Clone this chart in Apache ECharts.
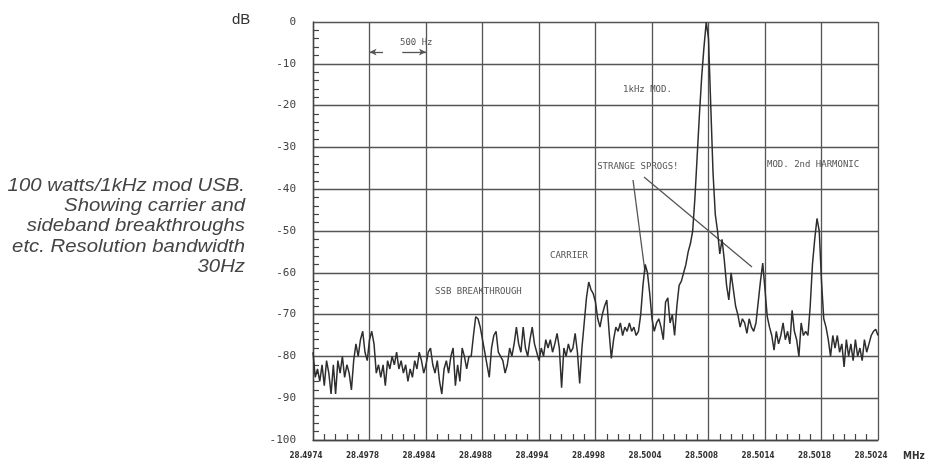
<!DOCTYPE html>
<html><head><meta charset="utf-8">
<script src="https://cdn.jsdelivr.net/npm/echarts/dist/echarts.min.js"></script>
<style>html,body{margin:0;padding:0;background:#fff}#c{width:945px;height:462px}</style>
</head><body><div id="c"></div>
<script>
// Sweep: 28.4974 .. 28.5024 MHz, 500 Hz/div; x values are Hz offset from the start
const tickLabels = ["28.4974","28.4978","28.4984","28.4988","28.4994","28.4998","28.5004","28.5008","28.5014","28.5018","28.5024"];
const sweepStepHz = 20;
const levelsDb = [
 -79,-85,-83,-86,-82,-87,-81,-84,-89,-82,
 -89,-81,-84,-80,-85,-82,-84,-88,-81,-77,
 -80,-76,-74,-79,-81,-76,-74,-77,-84,-82,
 -85,-82,-87,-81,-83,-80,-82,-79,-83,-81,
 -84,-82,-86,-83,-85,-81,-83,-79,-81,-84,
 -82,-79,-78,-82,-84,-81,-86,-89,-83,-81,
 -84,-80,-78,-87,-82,-86,-78,-80,-83,-80,
 -80,-75,-70.5,-71,-73,-76,-79,-82,-85,-78,
 -75,-74,-79,-80,-81,-84,-82,-78,-80,-77,
 -73,-77,-79,-73,-78,-80,-76,-73,-77,-79,
 -81,-78,-80,-76,-78,-76,-79,-77,-74.5,-78,
 -87.5,-78,-80,-77,-79,-78,-74.5,-79,-86.5,-78,
 -72,-66,-62.2,-64,-65,-67,-71,-73,-70,-68,
 -66.5,-74,-80.5,-76,-73,-74,-72,-75,-73,-74,
 -72,-74,-73,-75,-74,-70,-63,-58,-60,-65,
 -71,-74,-72,-71,-73,-76,-67,-66,-72,-70,
 -75,-68,-63,-62,-60,-58,-55,-53,-50,-42,
 -32,-22,-13,-6,0,-4,-20,-36,-46,-50,
 -55.5,-52,-57,-63,-66.5,-60,-64,-68,-70,-73,
 -71,-72,-74.5,-71,-73,-74,-72,-67,-62,-57.7,
 -64,-70.5,-73,-75,-78.5,-74,-77,-75,-72,-76,
 -74,-77,-69,-74,-76,-80,-72,-75,-74,-75,
 -68,-58,-52,-47,-50,-62,-71,-73,-76,-80,
 -75,-78,-75,-79,-77,-82.5,-76,-80,-77,-81,
 -76,-80,-78,-81,-76,-79,-77,-75,-74,-73.5,
 -75
];
const captionLines = ["100 watts/1kHz mod USB.","Showing carrier and","sideband breakthroughs","etc. Resolution bandwidth","30Hz"];
const notes = [
  {text:"500 Hz", at:[770,-5]},
  {text:"1kHz MOD.", at:[2744,-16.3]},
  {text:"STRANGE SPROGS!", at:[2515,-34.7]},
  {text:"MOD. 2nd HARMONIC", at:[4018,-34.2]},
  {text:"CARRIER", at:[2097,-56]},
  {text:"SSB BREAKTHROUGH", at:[1080,-64.6]}
];
const pointerLines = [[[2832,-37.8],[2938,-59.8]],[[2929,-37.1],[3885,-58.6]]];
const spanArrows = [[[620,-7.2],[500,-7.2]],[[790,-7.2],[1000,-7.2]]];

const chart = echarts.init(document.getElementById('c'), null, {renderer:'canvas'});
const option = {
  animation:false,
  backgroundColor:'#fff',
  grid:{left:313,right:67,top:22,bottom:22,containLabel:false},
  xAxis:{type:'value',min:0,max:5000,interval:500,
    axisLine:{show:true,onZero:false,lineStyle:{color:'#444',width:1.4}},
    axisTick:{show:false,inside:true},
    minorTick:{show:true,splitNumber:5,length:6,lineStyle:{color:'#444',width:1.2}},
    splitLine:{show:true,lineStyle:{color:'#555',width:1.3}},
    axisLabel:{formatter:v=>tickLabels[Math.round(v/500)]||'',fontFamily:'DejaVu Sans Condensed',fontWeight:'bold',fontSize:8,color:'#333',margin:12,padding:[0,14,0,0],showMinLabel:true,showMaxLabel:true,hideOverlap:false}
  },
  yAxis:{type:'value',min:-100,max:0,interval:10,
    axisLine:{show:true,onZero:false,lineStyle:{color:'#444',width:1.4}},
    axisTick:{show:false,inside:true},
    minorTick:{show:true,splitNumber:5,length:6,lineStyle:{color:'#444',width:1.2}},
    splitLine:{show:true,lineStyle:{color:'#555',width:1.3}},
    axisLabel:{fontFamily:'DejaVu Sans Mono',fontSize:11,color:'#444',margin:17}
  },
  series:[{
    type:'line',
    data:levelsDb.map((v,i)=>[i*sweepStepHz,v]),
    showSymbol:false,symbol:'none',
    lineStyle:{color:'#2e2e2e',width:1.5},
    z:5,
    markLine:{silent:true,symbol:['none','none'],label:{show:false},
      lineStyle:{color:'#555',width:1.3,type:'solid'},
      data:pointerLines.map(p=>[{coord:p[0]},{coord:p[1]}]).concat(
        spanArrows.map(p=>[{coord:p[0],symbol:'none'},{coord:p[1],symbol:'arrow',symbolSize:[5,7]}]))
    },
    markPoint:{silent:true,symbol:'rect',symbolSize:0,
      label:{show:true,position:'right',distance:0,fontFamily:'DejaVu Sans Mono',fontSize:9,color:'#555',formatter:p=>p.name},
      data:notes.map(n=>({name:n.text,coord:n.at}))
    }
  }],
  graphic:captionLines.map((t,k)=>({type:'text',x:245,y:186+k*20.2,scaleX:1.13,
      style:{text:t,align:'right',verticalAlign:'middle',font:'italic 18px "Liberation Sans"',fill:'#444'}}))
    .concat([
      {type:'text',x:232,y:20,style:{text:'dB',verticalAlign:'middle',font:'15px "Liberation Sans"',fill:'#333'}},
      {type:'text',x:903,y:456,style:{text:'MHz',verticalAlign:'middle',font:'bold 10px "DejaVu Sans Condensed"',fill:'#333'}}
    ])
};
chart.setOption(option);
</script></body></html>
